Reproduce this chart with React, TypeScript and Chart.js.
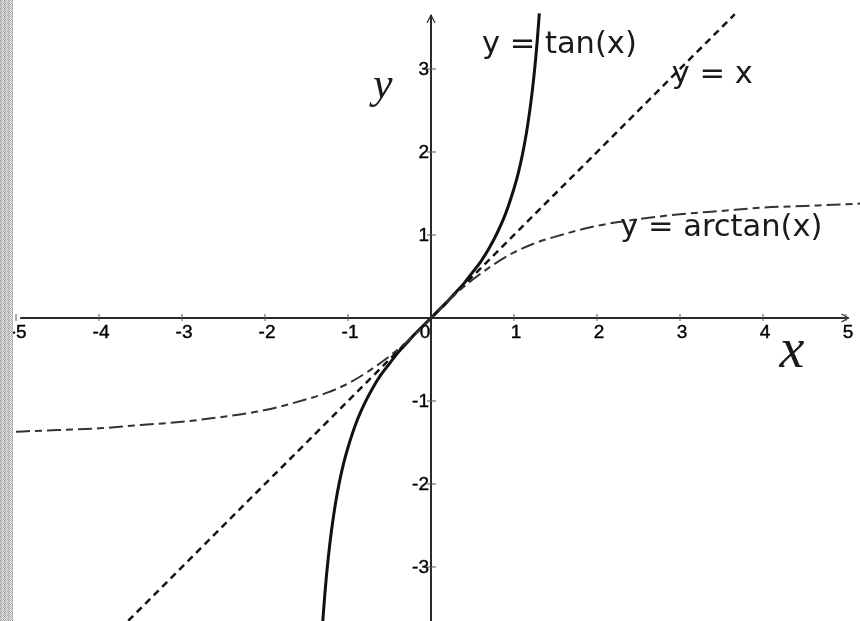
import { useEffect, useRef } from "react";
import { Chart, registerables } from "chart.js";

Chart.register(...registerables);

// Readings from the picture
const tanX = [-1.32, -1.3, -1.28, -1.26, -1.24, -1.22, -1.2, -1.15, -1.1, -1.05, -1.0, -0.9, -0.8, -0.7, -0.6, -0.5, -0.4, -0.3, -0.2, -0.1, 0, 0.1, 0.2, 0.3, 0.4, 0.5, 0.6, 0.7, 0.8, 0.9, 1.0, 1.05, 1.1, 1.15, 1.2, 1.22, 1.24, 1.26, 1.28, 1.3, 1.305];
const tanY = [-3.9, -3.6, -3.34, -3.11, -2.91, -2.73, -2.57, -2.23, -1.96, -1.74, -1.56, -1.26, -1.03, -0.84, -0.68, -0.55, -0.42, -0.31, -0.2, -0.1, 0, 0.1, 0.2, 0.31, 0.42, 0.55, 0.68, 0.84, 1.03, 1.26, 1.56, 1.74, 1.96, 2.23, 2.57, 2.73, 2.91, 3.11, 3.34, 3.6, 3.67];

const identX = [-3.75, 3.66];
const identY = [-3.75, 3.66];

const atanX = [-5.0, -4.5, -4.0, -3.5, -3.0, -2.5, -2.0, -1.5, -1.25, -1.0, -0.75, -0.5, -0.25, 0, 0.25, 0.5, 0.75, 1.0, 1.25, 1.5, 2.0, 2.5, 3.0, 3.5, 4.0, 4.5, 5.0, 5.2];
const atanY = [-1.37, -1.35, -1.33, -1.29, -1.25, -1.19, -1.11, -0.98, -0.9, -0.79, -0.64, -0.46, -0.25, 0, 0.25, 0.46, 0.64, 0.79, 0.9, 0.98, 1.11, 1.19, 1.25, 1.29, 1.33, 1.35, 1.37, 1.38];

const xTickValues = [-5, -4, -3, -2, -1, 0, 1, 2, 3, 4, 5];
const xTickLabels = ["-5", "-4", "-3", "-2", "-1", "0", "1", "2", "3", "4", "5"];
const yTickValues = [-3, -2, -1, 1, 2, 3];
const yTickLabels = ["-3", "-2", "-1", "1", "2", "3"];

// annotation labels: [text, x, y]
const curveLabels: [string, number, number][] = [
  ["y = tan(x)", 0.614, 3.19],
  ["y = x", 2.9, 2.83],
  ["y = arctan(x)", 2.28, 0.99],
];

const X_MIN = -5.193;
const X_MAX = 5.169;
const Y_MIN = -3.651;
const Y_MAX = 3.831;
const X_AXIS_START = -4.95;
const X_AXIS_END = 5.03;
const Y_AXIS_TOP = 3.65;

const toPts = (xs: number[], ys: number[]) => xs.map((x, i) => ({ x, y: ys[i] }));

function makeStripePattern(ctx: CanvasRenderingContext2D) {
  const c = document.createElement("canvas");
  c.width = 4;
  c.height = 4;
  const p = c.getContext("2d")!;
  const shades = ["#9a9a9a", "#d8d8d8", "#b5b5b5", "#e6e6e6", "#cfcfcf", "#a6a6a6", "#e0e0e0", "#bdbdbd", "#a9a9a9", "#dcdcdc", "#c4c4c4", "#ececec", "#d2d2d2", "#b0b0b0", "#e3e3e3", "#9f9f9f"];
  for (let i = 0; i < 16; i++) {
    p.fillStyle = shades[i];
    p.fillRect(i % 4, Math.floor(i / 4), 1, 1);
  }
  return ctx.createPattern(c, "repeat");
}

const axesPlugin = {
  id: "mathAxes",
  beforeDatasetsDraw(chart: any) {
    const { ctx, scales } = chart;
    const xs = scales.x;
    const ys = scales.y;
    const ox = xs.getPixelForValue(0);
    const oy = ys.getPixelForValue(0);
    ctx.save();
    ctx.strokeStyle = "#2a2a2a";
    ctx.lineWidth = 2;
    // x axis
    const xa0 = xs.getPixelForValue(X_AXIS_START);
    const xa1 = xs.getPixelForValue(X_AXIS_END);
    ctx.beginPath();
    ctx.moveTo(xa0, oy);
    ctx.lineTo(xa1, oy);
    ctx.stroke();
    ctx.lineWidth = 1.2;
    ctx.beginPath();
    ctx.moveTo(xa1 - 7, oy - 4);
    ctx.lineTo(xa1, oy);
    ctx.lineTo(xa1 - 7, oy + 4);
    ctx.stroke();
    // y axis
    ctx.lineWidth = 2;
    const yTop = ys.getPixelForValue(Y_AXIS_TOP);
    ctx.beginPath();
    ctx.moveTo(ox, ys.bottom);
    ctx.lineTo(ox, yTop);
    ctx.stroke();
    ctx.lineWidth = 1.2;
    ctx.beginPath();
    ctx.moveTo(ox - 4, yTop + 8);
    ctx.lineTo(ox, yTop);
    ctx.lineTo(ox + 4, yTop + 8);
    ctx.stroke();

    // ticks
    ctx.lineWidth = 1;
    ctx.strokeStyle = "#555";
    xTickValues.forEach((v) => {
      if (v === 0) return;
      const px = xs.getPixelForValue(v);
      ctx.beginPath();
      ctx.moveTo(px, oy - 4);
      ctx.lineTo(px, oy + 3);
      ctx.stroke();
    });
    yTickValues.forEach((v) => {
      const py = ys.getPixelForValue(v);
      ctx.beginPath();
      ctx.moveTo(ox - 4, py);
      ctx.lineTo(ox + 5, py);
      ctx.stroke();
    });

    // tick labels
    ctx.fillStyle = "#000";
    ctx.strokeStyle = "#000";
    ctx.lineWidth = 0.4;
    ctx.font = '19px "Liberation Sans", Arial, sans-serif';
    ctx.textAlign = "center";
    ctx.textBaseline = "alphabetic";
    xTickValues.forEach((v, i) => {
      let px = xs.getPixelForValue(v);
      if (v === 0) px -= 8;
      ctx.fillText(xTickLabels[i], px + 2, oy + 20);
      ctx.strokeText(xTickLabels[i], px + 2, oy + 20);
    });
    ctx.textAlign = "right";
    ctx.textBaseline = "middle";
    yTickValues.forEach((v, i) => {
      const py = ys.getPixelForValue(v);
      ctx.fillText(yTickLabels[i], ox - 2, py + 1);
      ctx.strokeText(yTickLabels[i], ox - 2, py + 1);
    });
    ctx.restore();
  },
  afterDatasetsDraw(chart: any) {
    const { ctx, scales } = chart;
    const xs = scales.x;
    const ys = scales.y;
    ctx.save();
    ctx.fillStyle = "#1a1a1a";
    ctx.font = '30.5px "DejaVu Sans", sans-serif';
    ctx.textAlign = "left";
    ctx.textBaseline = "alphabetic";
    curveLabels.forEach(([t, x, y]) => {
      ctx.fillText(t, xs.getPixelForValue(x), ys.getPixelForValue(y));
    });
    // axis names
    ctx.font = 'italic 44px "Liberation Serif", "DejaVu Serif", serif';
    ctx.fillText("y", xs.getPixelForValue(-0.7), ys.getPixelForValue(2.65));
    ctx.font = 'italic 56px "Liberation Serif", "DejaVu Serif", serif';
    ctx.fillText("x", xs.getPixelForValue(4.2), ys.getPixelForValue(-0.59));

    // scanned-page stripe at the left edge
    const pat = makeStripePattern(ctx);
    if (pat) {
      ctx.fillStyle = pat;
      ctx.fillRect(0, 0, 13, chart.height);
    }
    ctx.restore();
  },
};

export default function App() {
  const ref = useRef<HTMLCanvasElement | null>(null);
  useEffect(() => {
    if (!ref.current) return;
    const chart = new Chart(ref.current, {
      type: "line",
      data: {
        datasets: [
          {
            label: "y = arctan(x)",
            data: toPts(atanX, atanY),
            borderColor: "#333",
            borderWidth: 2,
            borderDash: [14, 5, 7, 5],
            pointRadius: 0,
            cubicInterpolationMode: "monotone",
            fill: false,
          },
          {
            label: "y = x",
            data: toPts(identX, identY),
            borderColor: "#111",
            borderWidth: 2.5,
            borderDash: [7, 5],
            pointRadius: 0,
            fill: false,
          },
          {
            label: "y = tan(x)",
            data: toPts(tanX, tanY),
            borderColor: "#111",
            borderWidth: 3,
            pointRadius: 0,
            cubicInterpolationMode: "monotone",
            fill: false,
          },
        ],
      },
      options: {
        animation: false,
        responsive: false,
        maintainAspectRatio: false,
        layout: { padding: 0 },
        plugins: { legend: { display: false }, tooltip: { enabled: false }, title: { display: false } },
        scales: {
          x: { type: "linear", min: X_MIN, max: X_MAX, display: false },
          y: { type: "linear", min: Y_MIN, max: Y_MAX, display: false },
        },
      },
      plugins: [axesPlugin],
    });
    return () => chart.destroy();
  }, []);
  return (
    <div style={{ position: "fixed", left: 0, top: 0, width: 860, height: 621, background: "#fff" }}>
      <canvas ref={ref} width={860} height={621} />
    </div>
  );
}
